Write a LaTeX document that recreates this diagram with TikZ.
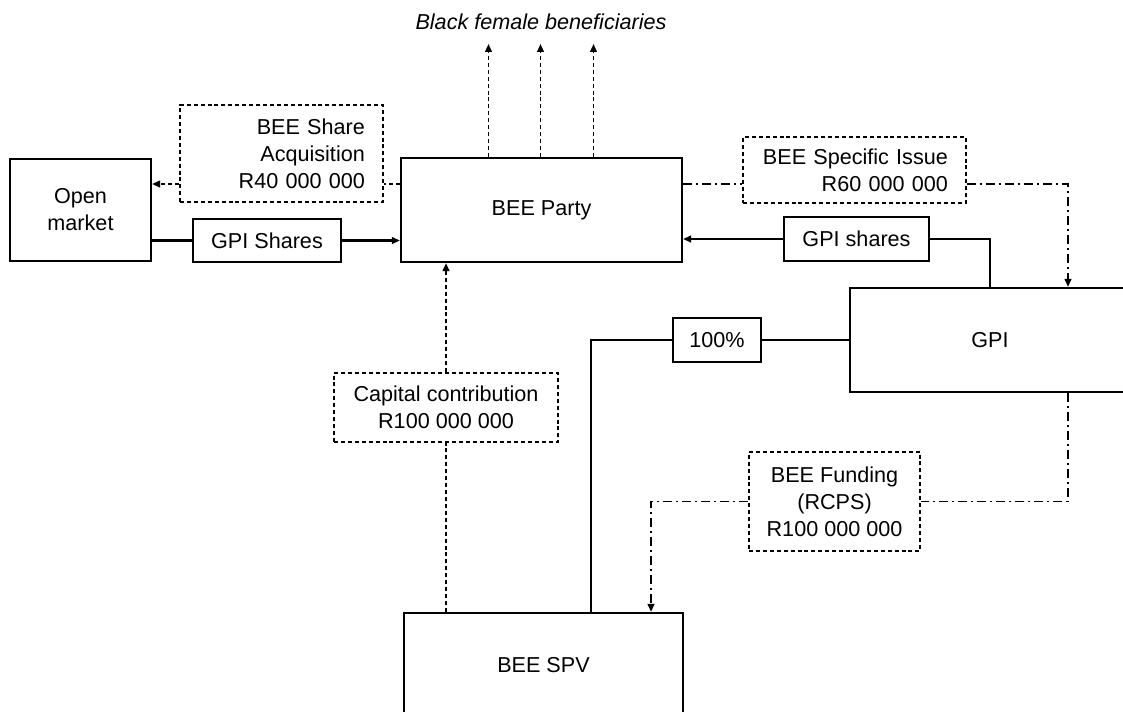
\documentclass[tikz,border=0pt]{standalone}
\usepackage{fontspec}
\setmainfont{Liberation Sans}
\usetikzlibrary{arrows.meta}
\begin{document}
\begin{tikzpicture}[x=0.75pt,y=-0.75pt,line width=1.6pt,>={Triangle[length=6pt,width=5pt]},
	font=\fontsize{16.2}{20.25}\selectfont,
	entity/.style={draw,minimum width=#1,minimum height=78pt,inner sep=0pt},
	flowbox/.style={draw,minimum height=32.5pt,inner sep=0pt,minimum width=#1},
	notebox/.style={draw,dash pattern=on 3pt off 2.2pt,line width=1.4pt,inner sep=0pt,minimum width=#1},
	dashdot/.style={dash pattern=on 6.75pt off 3pt on 1.5pt off 3pt,line width=1.4pt},
	dashline/.style={dash pattern=on 3pt off 2.2pt,line width=1.4pt}]
		\clip (0,0) rectangle (1123,711);
		\useasboundingbox (0,0) rectangle (1123,711);
		\node[entity=105.75pt,minimum height=76.5pt,align=center] (open) at (80.5,210) {Open\\market};
		\node[entity=210.75pt] (party) at (541.5,210) {BEE Party};
		\node[entity=210pt] (gpi) at (990,340) {GPI};
		\node[entity=209.25pt] (spv) at (543.5,665) {BEE SPV};
		\node (bfb) at (541,22) {\itshape Black female beneficiaries};
		\node[notebox=152.25pt,minimum height=72.75pt,align=right,text width=125pt] (acq) at (281.5,153.5) {BEE Share\\Acquisition\\R40 000 000};
		\node[notebox=167.25pt,minimum height=49.5pt,align=right,text width=140pt] (spec) at (854.5,170) {BEE Specific Issue\\R60 000 000};
		\node[notebox=168pt,minimum height=52pt,align=center] (cap) at (446,407.5) {Capital contribution\\R100 000 000};
		\node[notebox=128.25pt,minimum height=74.25pt,align=center] (fund) at (834.5,501.5) {BEE Funding\\(RCPS)\\R100 000 000};
		\node[flowbox=111pt] (gs1) at (267,240.5) {GPI Shares};
		\node[flowbox=108.75pt] (gs2) at (856.5,239) {GPI shares};
		\node[flowbox=66pt] (pct) at (717,340) {100\%};
		\coordinate (acqline) at (0,184);
		\coordinate (issuex) at (1068,0);
		\coordinate (ownx) at (591,0);
		\coordinate (fundx) at (651,0);
		\draw (gs1.west -| open.east) -- (gs1.west);
		\draw[->] (gs1.east) -- (gs1.east -| party.west);
		\draw[dashline] (acqline -| party.west) -- (acqline -| acq.east);
		\draw[dashline,->] (acqline -| acq.west) -- (acqline -| open.east);
		\foreach \dx in {-53,-1,52} \draw[dashline,->] ([xshift=\dx*0.75pt]party.north) -- ++(0,-113);
		\draw[dashdot] (acqline -| party.east) -- (acqline -| spec.west);
		\draw[dashdot,->] (acqline -| spec.east) -| (issuex |- gpi.north);
		\draw (gpi.north) |- (gs2.east);
		\draw[->] (gs2.west) -- (gs2.west -| party.east);
		\draw (gpi.west) -- (pct.east);
		\draw (pct.west) -| (ownx |- spv.north);
		\draw[dashline] (spv.north -| cap.south) -- (cap.south);
		\draw[dashline,->] (cap.north) -- (cap.north |- party.south);
		\draw[dashdot] (issuex |- gpi.south) |- (fund.east);
		\draw[dashdot,->] (fund.west) -| (fundx |- spv.north);
\end{tikzpicture}
\end{document}
